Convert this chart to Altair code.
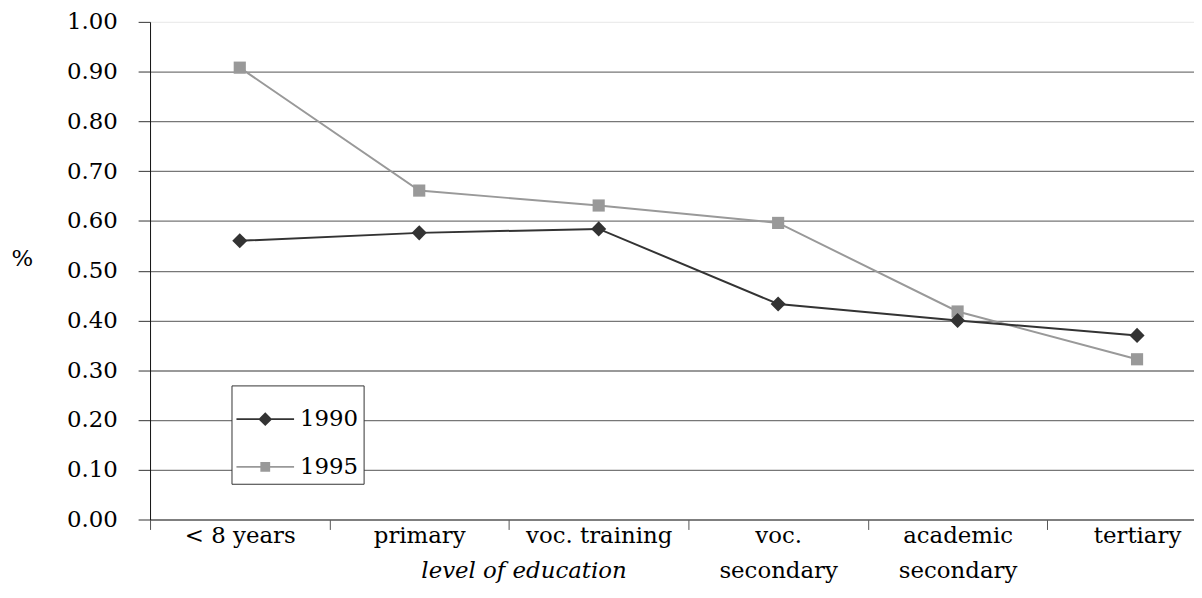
import altair as alt
import pandas as pd

categories = ["< 8 years", "primary", "voc. training", "voc. secondary",
              "academic secondary", "tertiary"]
years = ["1990", "1995"]
v1990 = [0.560, 0.576, 0.584, 0.433, 0.400, 0.370]
v1995 = [0.908, 0.661, 0.631, 0.596, 0.418, 0.322]
y_ticks = [0.0, 0.1, 0.2, 0.3, 0.4, 0.5, 0.6, 0.7, 0.8, 0.9, 1.0]
colors = ["#333333", "#999999"]

rows = []
for c, a, b in zip(categories, v1990, v1995):
    rows.append({"level": c, "year": "1990", "value": a})
    rows.append({"level": c, "year": "1995", "value": b})
df = pd.DataFrame(rows)

FONT = "DejaVu Serif"
FS = 23
STEP = 1084 / 6

x_enc = alt.X(
    "level:N", sort=categories,
    scale=alt.Scale(type="point", range=[0, 1084], padding=0.5),
    axis=alt.Axis(
        title="level of education", titleFont=FONT, titleFontSize=FS,
        titleFontStyle="italic", titleFontWeight="normal", titleColor="black",
        titleX=376, titleY=51, titleAlign="center", titleBaseline="middle",
        labelFont=FONT, labelFontSize=FS, labelColor="black", labelAngle=0,
        labelPadding=-5, labelLineHeight=35,
        labelExpr="datum.label == 'voc. secondary' ? ['voc.', 'secondary'] : "
                  "datum.label == 'academic secondary' ? ['academic', 'secondary'] : datum.label",
        tickOffset=-STEP / 2, labelOffset=STEP / 2, tickSize=10,
        tickColor="#555555", domainColor="#666666", grid=False,
        labelOverlap=False, labelBound=False,
    ),
)

y_enc = alt.Y(
    "value:Q",
    scale=alt.Scale(domain=[0, 1], nice=False),
    axis=alt.Axis(
        values=y_ticks, format=".2f", title="%", titleFont=FONT,
        titleFontSize=FS, titleFontWeight="normal", titleColor="black",
        titleAngle=0, titleX=-129, titleY=238, titleAlign="center",
        titleBaseline="middle",
        labelFont=FONT, labelFontSize=FS, labelColor="black", labelPadding=21,
        tickSize=12, tickColor="#333333", domainColor="#111111",
        gridColor={"condition": {"test": "datum.value === 1", "value": "#ececec"},
                   "value": "#777777"},
        gridWidth=1.3,
    ),
)

p1990 = "M-1,-0.03L1,-0.03L1,0.03L-1,0.03Z M0,-0.24L0.24,0L0,0.24L-0.24,0Z"
p1995 = "M-1,-0.03L1,-0.03L1,0.03L-1,0.03Z M-0.17,-0.17L0.17,-0.17L0.17,0.17L-0.17,0.17Z"

base90 = alt.Chart(df).transform_filter("datum.year == '1990'")
base95 = alt.Chart(df).transform_filter("datum.year == '1995'")

line90 = base90.mark_line(strokeWidth=2, color=colors[0]).encode(x=x_enc, y=y_enc)
line95 = base95.mark_line(strokeWidth=2, color=colors[1]).encode(x=x_enc, y=y_enc)

pts90 = base90.mark_point(
    filled=True, shape="diamond", size=230, opacity=1, color=colors[0]
).encode(x=x_enc, y=y_enc)

pts95 = base95.mark_point(
    filled=True, shape="square", size=150, opacity=1, color=colors[1]
).encode(x=x_enc, y=y_enc)

legend_layer = alt.Chart(df).transform_filter("false").mark_point(
    filled=True, opacity=1
).encode(
    x=x_enc, y=y_enc,
    color=alt.Color("year:N", title=None, scale=alt.Scale(domain=years, range=colors)),
    shape=alt.Shape("year:N", title=None, scale=alt.Scale(domain=years, range=[p1990, p1995])),
)

chart = (line95 + line90 + pts95 + pts90 + legend_layer).properties(
    width=1051, height=501,
    autosize=alt.AutoSizeParams(type="none"),
    padding={"left": 143, "top": 12, "right": 0, "bottom": 70},
).configure(font=FONT, background="white").configure_view(
    stroke=None
).configure_legend(
    orient="none", legendX=82, legendY=366,
    labelFont=FONT, labelFontSize=FS, labelColor="black",
    symbolSize=3364, symbolStrokeWidth=0, symbolOpacity=1,
    labelOffset=6, rowPadding=7, padding=5,
    strokeColor="#333333", fillColor="white",
)

chart.save("out.html", embed_options={"renderer": "svg", "actions": False})
